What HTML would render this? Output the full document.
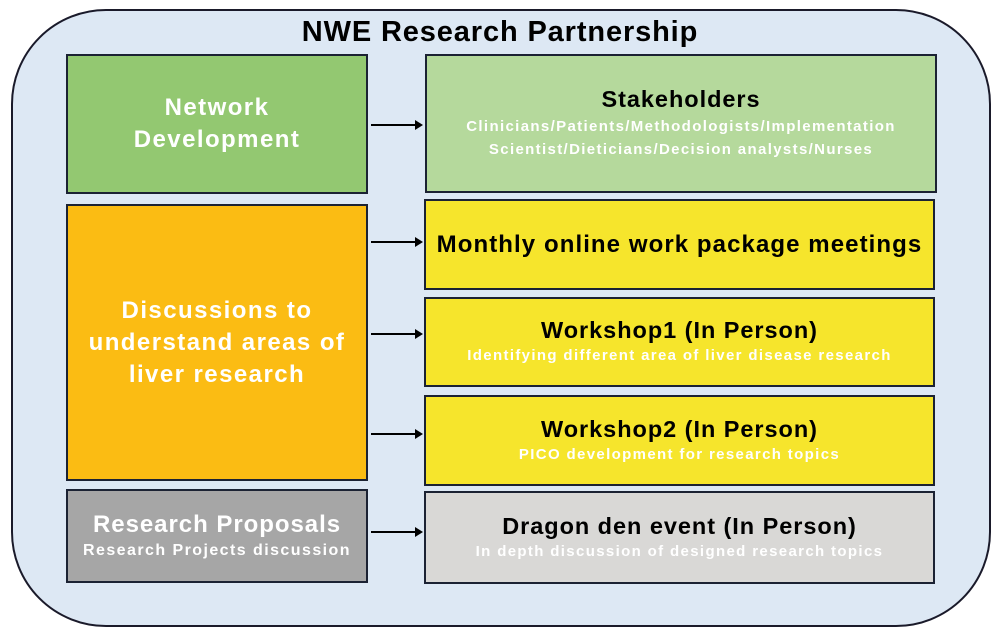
<!DOCTYPE html>
<html><head><style>
body{margin:0;width:1000px;height:636px;background:#fff;position:relative;font-family:"Liberation Sans",sans-serif;overflow:hidden}
.o{position:absolute;left:11px;top:9px;width:976px;height:614px;border:2px solid #1a1a2a;border-radius:95px;background:#dde8f4}
.b{position:absolute;border:2px solid #1b2233;box-sizing:border-box;display:flex;flex-direction:column;align-items:center;justify-content:center;text-align:center;font-weight:bold;letter-spacing:0.06em;white-space:nowrap}
.t{position:absolute;left:0;width:1000px;top:16px;text-align:center;font-size:29px;font-weight:bold;color:#000;letter-spacing:0.03em}
.w{color:#fff}
.s{font-size:15px;line-height:23px;letter-spacing:0.09em}
.h{font-size:23.5px}
.a{position:absolute;height:2px;background:#000}
.a:after{content:"";position:absolute;right:-2px;top:-4px;border-left:8px solid #000;border-top:5px solid transparent;border-bottom:5px solid transparent}
</style></head><body>
<div class="o"></div>
<div class="t">NWE Research Partnership</div>
<div class="b w" style="left:66px;top:54px;width:302px;height:140px;background:#93c871;font-size:24px;line-height:32px">Network<br>Development</div>
<div class="b" style="left:425px;top:54px;width:512px;height:139px;background:#b5d99c"><div class="h" style="margin-bottom:2px">Stakeholders</div><div class="w s">Clinicians/Patients/Methodologists/Implementation<br>Scientist/Dieticians/Decision analysts/Nurses</div></div>
<div class="b w" style="left:66px;top:204px;width:302px;height:277px;background:#fbbc13;font-size:24px;line-height:32px">Discussions to<br>understand areas of<br>liver research</div>
<div class="b" style="left:424px;top:199px;width:511px;height:91px;background:#f6e52c;font-size:24px;letter-spacing:0.045em">Monthly online work package meetings</div>
<div class="b" style="left:424px;top:297px;width:511px;height:90px;background:#f6e52c"><div class="h">Workshop1 (In Person)</div><div class="w s">Identifying different area of liver disease research</div></div>
<div class="b" style="left:424px;top:395px;width:511px;height:91px;background:#f6e52c"><div class="h">Workshop2 (In Person)</div><div class="w s">PICO development for research topics</div></div>
<div class="b w" style="left:66px;top:489px;width:302px;height:94px;background:#a6a6a6"><div style="font-size:24px">Research Proposals</div><div class="s" style="font-size:16px">Research Projects discussion</div></div>
<div class="b" style="left:424px;top:491px;width:511px;height:93px;background:#d9d8d6"><div class="h">Dragon den event (In Person)</div><div class="w s">In depth discussion of designed research topics</div></div>
<div class="a" style="left:371px;top:124px;width:50px"></div>
<div class="a" style="left:371px;top:241px;width:50px"></div>
<div class="a" style="left:371px;top:333px;width:50px"></div>
<div class="a" style="left:371px;top:433px;width:50px"></div>
<div class="a" style="left:371px;top:531px;width:50px"></div>
</body></html>
